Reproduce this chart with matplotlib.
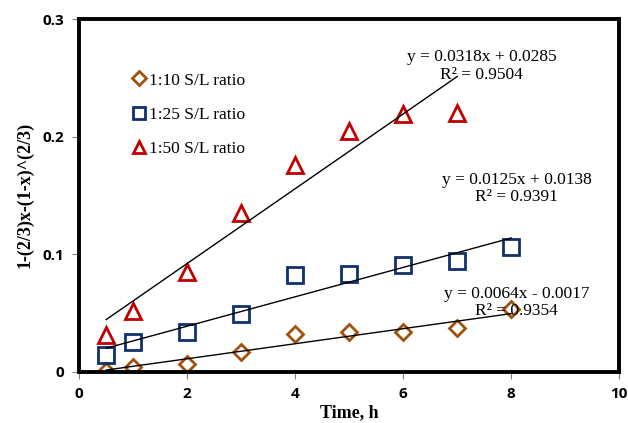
import numpy as np
import matplotlib.pyplot as plt

# ============
# Data
# ============

time_h = [0.5, 1, 2, 3, 4, 5, 6, 7, 8]

ratio_10 = [0.001, 0.004, 0.007, 0.017, 0.032, 0.034, 0.034, 0.037, 0.053]
ratio_25 = [0.014, 0.025, 0.034, 0.049, 0.082, 0.083, 0.091, 0.094, 0.106]
time_50 = [0.5, 1, 2, 3, 4, 5, 6, 7]
ratio_50 = [0.031, 0.052, 0.085, 0.135, 0.176, 0.205, 0.219, 0.220]

# trendline coefficients (slope, intercept) as printed on the chart
fit_10 = (0.0064, -0.0017)
fit_25 = (0.0125, 0.0138)
fit_50 = (0.0318, 0.0285)

eq_10 = 'y = 0.0064x - 0.0017\nR² = 0.9354'
eq_25 = 'y = 0.0125x + 0.0138\nR² = 0.9391'
eq_50 = 'y = 0.0318x + 0.0285\nR² = 0.9504'

# ============
# Plot
# ============

fig = plt.figure(figsize=(6.28, 4.23), dpi=100)
ax = fig.add_axes([0.126, 0.121, 0.860, 0.834])

serif = 'Liberation Serif'
mk = dict(linestyle='none', markerfacecolor='none', markeredgewidth=2.0)

ax.plot(time_h, ratio_10, marker='D', markersize=8, color='#a0520c', label='1:10 S/L ratio', **mk)
ax.plot(time_h, ratio_25, marker='s', markersize=11, color='#10306e', label='1:25 S/L ratio', **mk)
ax.plot(time_50, ratio_50, marker='^', markersize=11, color='#c00000', label='1:50 S/L ratio', **mk)

for t, (m, b) in [(time_h, fit_10), (time_h, fit_25), (time_50, fit_50)]:
    xx = np.array([t[0], t[-1]])
    ax.plot(xx, m * xx + b, color='black', lw=1.0)

eq_kw = dict(ha='center', va='bottom', family=serif, fontsize=12.5, linespacing=1.15)
ax.text(7.45, 0.2455, eq_50, **eq_kw)
ax.text(8.1, 0.1415, eq_25, **eq_kw)
ax.text(8.1, 0.0445, eq_10, **eq_kw)

ax.set_xlim(0, 10)
ax.set_ylim(0, 0.3)
ax.set_xticks([0, 2, 4, 6, 8, 10])
ax.set_yticks([0, 0.1, 0.2, 0.3])
ax.set_yticklabels(['0', '0.1', '0.2', '0.3'])
for lab in ax.get_xticklabels() + ax.get_yticklabels():
    lab.set_fontweight('bold')
    lab.set_family('Open Sans')
    lab.set_fontsize(11)
ax.tick_params(direction='out', length=5, width=0.8, color='#808080', pad=6)

for s in ax.spines.values():
    s.set_linewidth(2.8)

ax.set_xlabel('Time, h', family=serif, fontweight='bold', fontsize=13, labelpad=2)
ax.set_ylabel('1-(2/3)x-(1-x)^(2/3)', family=serif, fontweight='bold', fontsize=13, labelpad=6)

leg = ax.legend(loc='upper left', bbox_to_anchor=(0.065, 0.893), frameon=False,
                prop={'family': serif, 'size': 12.5}, handletextpad=0.0, labelspacing=1.05,
                handlelength=1.1, markerscale=0.85)

fig.savefig('out.png', dpi=100)
